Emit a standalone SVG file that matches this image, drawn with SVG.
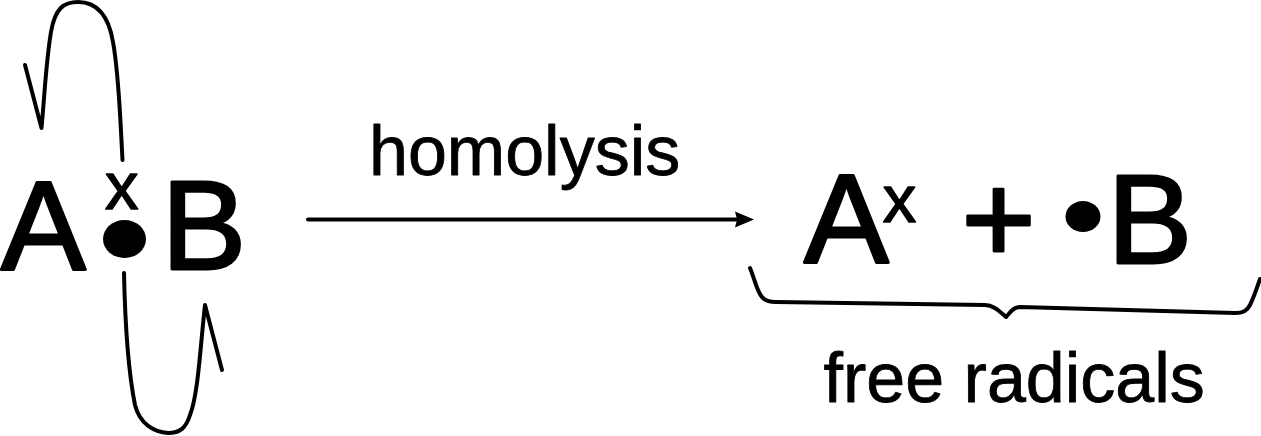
<svg xmlns="http://www.w3.org/2000/svg" width="1261" height="436" viewBox="0 0 1261 436">
<style>
text{font-family:"Liberation Sans",Arial,sans-serif;fill:#000;stroke:#000;stroke-linejoin:round}
.big{font-size:127px;stroke-width:2.800px}
.mid{font-size:70px;stroke-width:.8px}
.sm{font-size:67px;stroke-width:1.400px}
.ln{fill:none;stroke:#000;stroke-width:4;stroke-linecap:round;stroke-linejoin:round}
</style>
<defs>
<marker id="ah" markerUnits="userSpaceOnUse" markerWidth="20" markerHeight="18" refX="1" refY="9" orient="auto"><path d="M0 1L19 9L0 17L2 9Z" fill="#000"/></marker>
</defs>
<rect width="1261" height="436" fill="#fff"/>
<g id="connectors">
<path id="top-loop" class="ln" d="M122.500 160C120 115 119 75 113 42C108 12 94 2 78 2C64 2 55 8 51 32C46 62 45 90 41.500 128L25 65"/>
<path id="bottom-loop" class="ln" d="M124 273C125 320 128 370 135 405C140 425 155 432 168 433C180 433 186 428 190 415C198 395 200 350 205 305L222 370"/>
<path id="reaction-arrow" d="M308 219.500H736" fill="none" stroke="#000" stroke-width="4" stroke-linecap="round" marker-end="url(#ah)"/>
<path id="brace" class="ln" d="M750 268C755 280 757 292 762 297C765 301 770 302 776 302L985 305C994 305 1000 312 1006 317C1010 313 1013 307 1020 307L1235 313C1243 313 1247 311 1250 305C1254 297 1257 288 1260 279"/>
</g>
<g id="node-AB">
<text class="big" x="1" y="268.500">A</text>
<text class="sm" x="105" y="208.500">x</text>
<ellipse cx="124.500" cy="239" rx="21.500" ry="19"/>
<text class="big" x="161.500" y="268.500">B</text>
</g>
<g id="label-homolysis"><text class="mid" x="369" y="175">homolysis</text></g>
<g id="node-A-radical">
<text class="big" x="804" y="261.500">A<tspan class="sm" dx="-6" dy="-40">x</tspan></text>
</g>
<g id="plus"><text class="big" x="961.500" y="261.500">+</text></g>
<g id="node-B-radical">
<ellipse cx="1083" cy="216.500" rx="17.500" ry="15.500"/>
<text class="big" x="1107.500" y="262.500">B</text>
</g>
<g id="label-free-radicals"><text class="mid" x="823.500" y="402">free radicals</text></g>
</svg>
